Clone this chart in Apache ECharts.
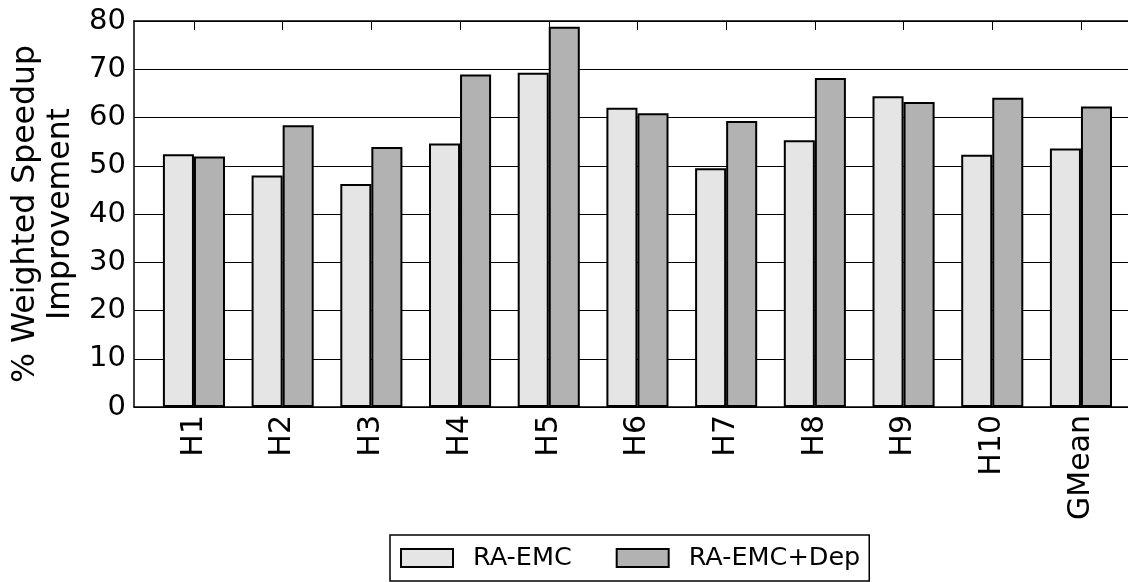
<!DOCTYPE html>
<html>
<head>
<meta charset="utf-8">
<script src="https://cdn.jsdelivr.net/npm/echarts@6/dist/echarts.min.js"></script>
<style>html,body{margin:0;padding:0;background:#fff;}#c{width:1128px;height:582px;}</style>
</head>
<body>
<div id="c"></div>
<script>
const categories = ['H1','H2','H3','H4','H5','H6','H7','H8','H9','H10','GMean'];
const raEmc = [52.4, 48.0, 46.2, 54.6, 69.3, 62.0, 49.5, 55.3, 64.4, 52.3, 53.6];
const raEmcDep = [51.9, 58.4, 53.9, 68.9, 78.8, 60.9, 59.3, 68.2, 63.2, 64.1, 62.3];
const yTicks = [0, 10, 20, 30, 40, 50, 60, 70, 80];
const seriesNames = ['RA-EMC', 'RA-EMC+Dep'];

const FONT = 'DejaVu Sans';
const chart = echarts.init(document.getElementById('c'), null, {renderer: 'canvas'});
chart.setOption({
  backgroundColor: '#fff',
  animation: false,
  textStyle: {fontFamily: FONT, color: '#000'},
  grid: [
    {left: 132, right: -40, top: 21, bottom: 175},
    {left: 149.6, right: 2.7, top: 21, bottom: 175}
  ],
  xAxis: [
    {gridIndex: 0, type: 'value', min: 0, max: 1, position: 'bottom',
     axisLine: {show: true, lineStyle: {color: '#000', width: 1.5}},
     axisTick: {show: false}, axisLabel: {show: false}, splitLine: {show: false}},
    {gridIndex: 0, type: 'value', min: 0, max: 1, position: 'top',
     axisLine: {show: true, lineStyle: {color: '#000', width: 1.5}},
     axisTick: {show: false}, axisLabel: {show: false}, splitLine: {show: false}},
    {gridIndex: 1, type: 'category', data: categories, position: 'bottom',
     axisLine: {show: false}, axisTick: {show: false},
     axisLabel: {rotate: 90, fontSize: 30, fontFamily: FONT, color: '#000', margin: 8, interval: 0}},
    {gridIndex: 1, type: 'category', data: categories, position: 'top',
     axisLine: {show: false},
     axisTick: {show: true, inside: true, length: 9, alignWithLabel: true, lineStyle: {color: '#000', width: 1}},
     axisLabel: {show: false}}
  ],
  yAxis: [
    {gridIndex: 0, type: 'value', min: yTicks[0], max: yTicks[yTicks.length - 1], interval: 10,
     name: '% Weighted Speedup\nImprovement', nameLocation: 'middle', nameGap: 56,
     nameTextStyle: {fontSize: 31.5, fontFamily: FONT, color: '#000', lineHeight: 35, align: 'center'},
     axisLine: {show: true, lineStyle: {color: '#000', width: 1.5}},
     axisTick: {show: true, inside: true, length: 9, lineStyle: {color: '#000'}},
     axisLabel: {fontSize: 29, fontFamily: FONT, color: '#000', margin: 8},
     splitLine: {show: true, lineStyle: {color: '#000', width: 1}}},
    {gridIndex: 1, type: 'value', min: yTicks[0], max: yTicks[yTicks.length - 1], interval: 10,
     show: false, splitLine: {show: false}}
  ],
  legend: {
    left: 390, top: 535,
    data: seriesNames,
    icon: 'rect',
    itemWidth: 52, itemHeight: 18, itemGap: 44,
    padding: [10, 9, 10, 10],
    borderColor: '#000', borderWidth: 1.5,
    textStyle: {fontSize: 25.5, fontFamily: FONT, color: '#000', padding: [0, 0, 0, 15]}
  },
  series: [
    {name: seriesNames[0], type: 'bar', xAxisIndex: 2, yAxisIndex: 1, data: raEmc,
     barGap: '0%', barCategoryGap: '30%',
     itemStyle: {color: '#e5e5e5', borderColor: '#000', borderWidth: 2}},
    {name: seriesNames[1], type: 'bar', xAxisIndex: 2, yAxisIndex: 1, data: raEmcDep,
     barGap: '0%', barCategoryGap: '30%',
     itemStyle: {color: '#b2b2b2', borderColor: '#000', borderWidth: 2}}
  ]
});
</script>
</body>
</html>
